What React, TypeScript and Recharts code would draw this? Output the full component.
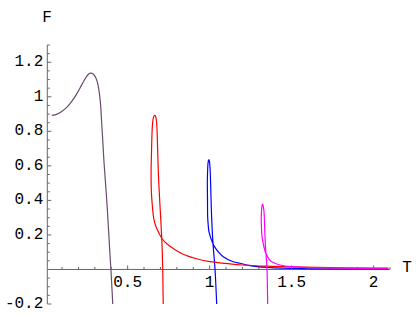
import React from 'react';
import { LineChart, Line, XAxis, YAxis, ReferenceLine } from 'recharts';

// [T, F] points (parametric order)
const purpleCurve: [number, number][] = [
  [0.037, 0.892], [0.07, 0.9], [0.098, 0.915], [0.13, 0.94], [0.159, 0.973], [0.185, 1.01], [0.209, 1.05],
  [0.23, 1.087], [0.250, 1.118], [0.263, 1.132], [0.275, 1.137], [0.289, 1.132], [0.301, 1.118],
  [0.312, 1.095], [0.321, 1.06], [0.329, 1.01], [0.336, 0.94], [0.341, 0.86], [0.346, 0.78], [0.351, 0.70],
  [0.356, 0.62], [0.362, 0.54], [0.368, 0.46], [0.374, 0.38], [0.379, 0.30], [0.384, 0.22], [0.389, 0.14],
  [0.394, 0.06], [0.398, 0], [0.402, -0.07], [0.406, -0.14], [0.409, -0.2],
];
const redCurve: [number, number][] = [
  [0.717, -0.2], [0.714, 0], [0.708, 0.181], [0.697, 0.374], [0.687, 0.567], [0.681, 0.76], [0.677, 0.845],
  [0.672, 0.882], [0.665, 0.892], [0.658, 0.882], [0.653, 0.855], [0.649, 0.8], [0.646, 0.7], [0.643, 0.567],
  [0.644, 0.47], [0.647, 0.413], [0.656, 0.316], [0.665, 0.27], [0.677, 0.239], [0.708, 0.181], [0.748, 0.142],
  [0.799, 0.109], [0.85, 0.084], [0.92, 0.062], [1.002, 0.045], [1.1, 0.035], [1.2, 0.026], [1.35, 0.019],
  [1.5, 0.015], [1.8, 0.01], [2.09, 0.008],
];
const blueCurve: [number, number][] = [
  [1.043, -0.2], [1.033, 0], [1.022, 0.132], [1.012, 0.306], [1.006, 0.5], [1.002, 0.596], [0.999, 0.625],
  [0.996, 0.635], [0.992, 0.628], [0.989, 0.6], [0.987, 0.55], [0.986, 0.5], [0.987, 0.4], [0.988, 0.306],
  [0.992, 0.25], [0.998, 0.21], [1.019, 0.152], [1.043, 0.113], [1.083, 0.074], [1.144, 0.045], [1.185, 0.036],
  [1.246, 0.022], [1.35, 0.012], [1.551, 0.005], [1.8, 0.003], [2.09, 0.002],
];
const magentaCurve: [number, number][] = [
  [1.354, -0.2], [1.35, 0], [1.344, 0.084], [1.337, 0.2], [1.333, 0.316], [1.328, 0.362], [1.323, 0.378],
  [1.319, 0.365], [1.316, 0.33], [1.315, 0.28], [1.317, 0.22], [1.321, 0.181], [1.333, 0.123], [1.348, 0.084],
  [1.362, 0.06], [1.378, 0.045], [1.429, 0.026], [1.5, 0.016], [1.6, 0.011], [1.8, 0.007], [2.09, 0.004],
];

const xTicks = [0.1, 0.2, 0.3, 0.4, 0.5, 0.6, 0.7, 0.8, 0.9, 1, 1.1, 1.2, 1.3, 1.4, 1.5, 1.6, 1.7, 1.8, 1.9, 2, 2.1];
const xLabels = [0.5, 1, 1.5, 2];
const yTicks = [-0.2, -0.15, -0.1, -0.05, 0.05, 0.1, 0.15, 0.2, 0.25, 0.3, 0.35, 0.4, 0.45, 0.5, 0.55, 0.6, 0.65,
  0.7, 0.75, 0.8, 0.85, 0.9, 0.95, 1, 1.05, 1.1, 1.15, 1.2, 1.25, 1.3];
const yLabels = [-0.2, 0.2, 0.4, 0.6, 0.8, 1, 1.2];

const toRows = (c: [number, number][]) => c.map(([T, F]) => ({ T, F }));

const W = 416;
const H = 319;
const MT = 45;
const MB = 15;
const MR = 26;
const AXIS_X = 47.3;
const Y_MIN = -0.2;
const Y_MAX = 1.3;
const Y0 = MT + (Y_MAX - 0) * ((H - MT - MB) / (Y_MAX - Y_MIN));
const AXIS_COLOR = '#666666';
const FONT = 'Liberation Mono';
const FS = 16;

const XTick = (props: any) => {
  const { x, payload } = props;
  const v = payload.value;
  const major = xLabels.includes(v);
  return (
    <g>
      <line x1={x} x2={x} y1={Y0} y2={Y0 - (major ? 4 : 2.5)} stroke={AXIS_COLOR} strokeWidth={1} />
      {major && (
        <text x={x} y={283} textAnchor="middle" dominantBaseline="central" fontFamily={FONT} fontSize={FS} fill="#000">
          {String(v)}
        </text>
      )}
    </g>
  );
};

const YTick = (props: any) => {
  const { y, payload } = props;
  const v = payload.value;
  const major = yLabels.includes(v);
  return (
    <g>
      <line x1={AXIS_X} x2={AXIS_X + (major ? 4 : 2.5)} y1={y} y2={y} stroke={AXIS_COLOR} strokeWidth={1} />
      {major && (
        <text x={AXIS_X - 4} y={y} textAnchor="end" dominantBaseline="central" fontFamily={FONT} fontSize={FS} fill="#000">
          {String(v)}
        </text>
      )}
    </g>
  );
};

export default function App() {
  return (
    <div style={{ position: 'fixed', left: 0, top: 0, width: W, height: H, background: '#fff' }}>
      <LineChart width={W} height={H} margin={{ top: MT, right: MR, bottom: 0, left: 0 }}>
        <XAxis
          type="number"
          dataKey="T"
          domain={[0.01, 2.1]}
          allowDataOverflow
          ticks={xTicks}
          interval={0}
          axisLine={false}
          tickLine={false}
          tick={<XTick />}
          height={MB}
        />
        <YAxis
          type="number"
          dataKey="F"
          domain={[Y_MIN, Y_MAX]}
          allowDataOverflow
          ticks={yTicks}
          interval={0}
          width={AXIS_X}
          axisLine={{ stroke: AXIS_COLOR, strokeWidth: 1 }}
          tickLine={false}
          tick={<YTick />}
        />
        <ReferenceLine y={0} stroke={AXIS_COLOR} strokeWidth={1} />
        <Line data={toRows(purpleCurve)} dataKey="F" type="natural" stroke="#6a4c6e" strokeWidth={1.2} dot={false} isAnimationActive={false} />
        <Line data={toRows(blueCurve)} dataKey="F" type="natural" stroke="#0000ff" strokeWidth={1.2} dot={false} isAnimationActive={false} />
        <Line data={toRows(redCurve)} dataKey="F" type="natural" stroke="#ff0000" strokeWidth={1.2} dot={false} isAnimationActive={false} />
        <Line data={toRows(magentaCurve)} dataKey="F" type="natural" stroke="#ff00ff" strokeWidth={1.2} dot={false} isAnimationActive={false} />
      </LineChart>
      <svg width={W} height={H} style={{ position: 'absolute', left: 0, top: 0, pointerEvents: 'none' }}>
        <text x={47} y={18} textAnchor="middle" dominantBaseline="central" fontFamily={FONT} fontSize={FS} fill="#000">F</text>
        <text x={407} y={268} textAnchor="middle" dominantBaseline="central" fontFamily={FONT} fontSize={FS} fill="#000">T</text>
      </svg>
    </div>
  );
}
